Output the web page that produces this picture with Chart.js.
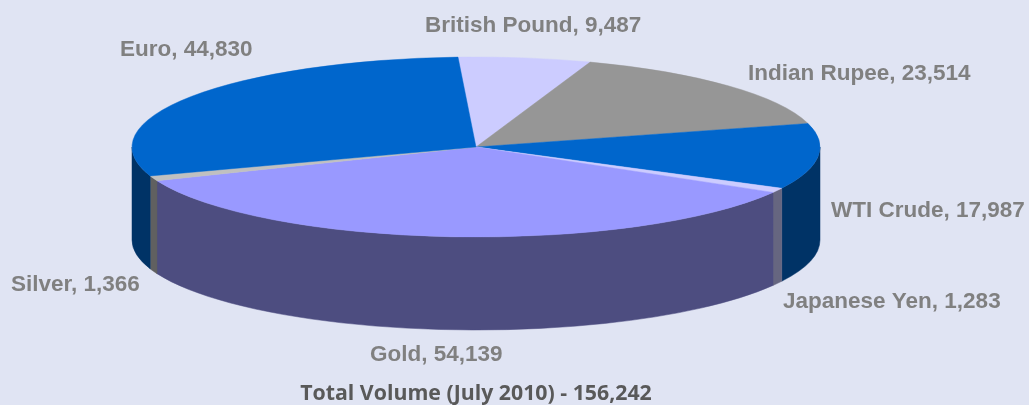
<!DOCTYPE html>
<html>
<head>
<meta charset="utf-8">
<title>Total Volume</title>
<script src="https://cdn.jsdelivr.net/npm/chart.js@4/dist/chart.umd.min.js"></script>
<style>
  html, body { margin: 0; padding: 0; background: #e0e4f3; overflow: hidden; }
  #wrap { position: relative; width: 1029px; height: 405px; }
</style>
</head>
<body>
<div id="wrap"><canvas id="pie_chart" width="1029" height="405"></canvas></div>
<script>
// clockwise, starting just left of the top of the pie
var categories = ['British Pound', 'Indian Rupee', 'WTI Crude', 'Japanese Yen', 'Gold', 'Silver', 'Euro'];
var volumes = [9487, 23514, 17987, 1283, 54139, 1366, 44830];
var chartTitle = 'Total Volume (July 2010) - 156,242';

var topColors = ['#ccccff', '#969696', '#0066cc', '#ccccff', '#9999ff', '#c0c0c0', '#0066cc'];
var sideColors = ['#666680', '#4b4b4b', '#003366', '#666680', '#4d4d80', '#606060', '#003366'];

// left edge and vertical middle of each slice label
var labelX = [425, 748, 831, 783, 370, 11, 120];
var labelY = [26, 73.5, 211, 302, 355, 285, 49.5];

// how the flat pie is laid over on its side
var pieCx = 476, pieCy = 147, pieRx = 344, pieRy = 90, pieDepth = 93;

var tilt = {
  id: 'tilt',
  beforeDatasetsDraw: function(chart) {
    var ctx = chart.ctx;
    var arcs = chart.getDatasetMeta(0).data;
    var twoPi = Math.PI * 2;

    // walls: only the part of each slice facing the viewer (0 to PI on the canvas)
    arcs.forEach(function(arc, i) {
      for (var k = 0; k < 2; k++) {
        var a = Math.max(arc.startAngle, k * twoPi);
        var b = Math.min(arc.endAngle, Math.PI + k * twoPi);
        if (b <= a) continue;
        ctx.beginPath();
        ctx.ellipse(pieCx, pieCy, pieRx, pieRy, 0, a, b);
        ctx.ellipse(pieCx, pieCy + pieDepth, pieRx, pieRy, 0, b, a, true);
        ctx.closePath();
        ctx.fillStyle = sideColors[i];
        ctx.strokeStyle = sideColors[i];
        ctx.lineWidth = 0.5;
        ctx.fill();
        ctx.stroke();
      }
    });

    // top face: the library's own arcs, squashed into the ellipse
    var first = arcs[0];
    ctx.save();
    ctx.translate(pieCx, pieCy);
    ctx.scale(pieRx / first.outerRadius, pieRy / first.outerRadius);
    ctx.translate(-first.x, -first.y);
  },
  afterDatasetsDraw: function(chart) {
    var ctx = chart.ctx;
    ctx.restore();

    ctx.save();
    ctx.font = 'bold 22.5px "Liberation Sans", Arial, sans-serif';
    ctx.fillStyle = '#808080';
    ctx.textAlign = 'left';
    ctx.textBaseline = 'middle';
    categories.forEach(function(name, i) {
      ctx.fillText(name + ', ' + volumes[i].toLocaleString('en-US'), labelX[i], labelY[i]);
    });
    ctx.restore();
  }
};

var ctx = document.getElementById('pie_chart');

var pieChart = new Chart(ctx, {
  type: 'pie',
  data: {
    labels: categories,
    datasets: [{
      data: volumes,
      backgroundColor: topColors,
      borderColor: topColors,
      borderWidth: 0.4
    }]
  },
  options: {
    responsive: false,
    animation: false,
    rotation: -3,
    layout: { padding: { top: 10, bottom: 0, left: 0, right: 77 } },
    plugins: {
      legend: { display: false },
      tooltip: { enabled: false },
      title: {
        display: true,
        text: chartTitle,
        position: 'bottom',
        color: '#595959',
        font: { family: '"Open Sans"', size: 21.3, weight: 'bold' },
        padding: { top: 0, bottom: -2 }
      }
    }
  },
  plugins: [tilt]
});
</script>
</body>
</html>
